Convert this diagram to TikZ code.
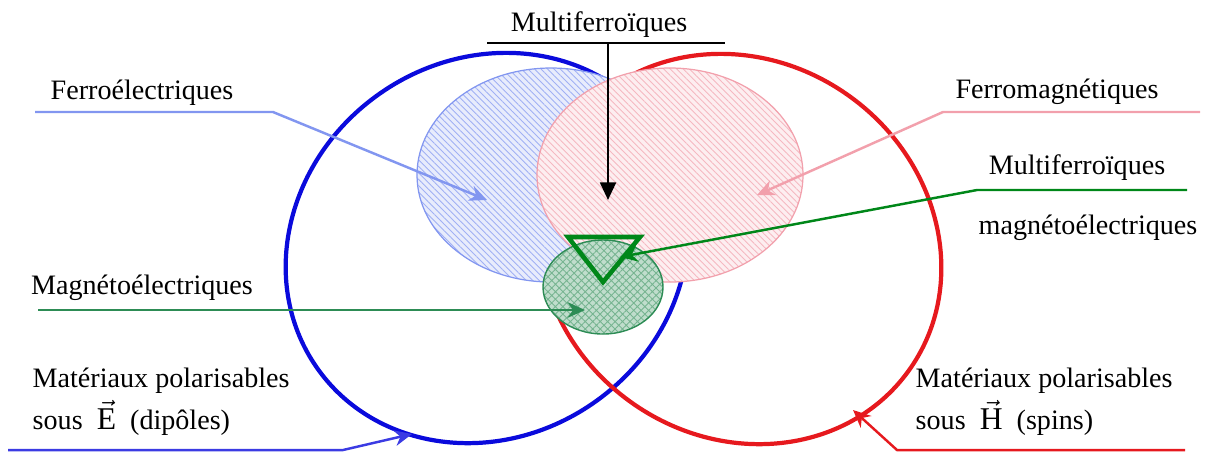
\documentclass[tikz,border=0pt]{standalone}
\usepackage{amsmath}
\usepackage{fontspec}
\setmainfont{Liberation Serif}
\usepackage{tikz}
\usetikzlibrary{
  arrows.meta,
  patterns.meta,
  positioning
}
\definecolor{ringblue}{RGB}{10,10,220}
\definecolor{ringred}{RGB}{230,25,30}
\definecolor{hatchblue}{RGB}{130,150,240}
\definecolor{hatchred}{RGB}{242,160,172}
\definecolor{triggreen}{RGB}{0,135,25}
\definecolor{megreen}{RGB}{45,140,85}

\begin{document}
\begin{tikzpicture}[
  every node/.style={font=\fontsize{8}{9.6}\selectfont, inner sep=0pt},
  bigring/.style={line width=1.2pt},
  hatched/.style={draw=#1, line width=0.35pt, fill opacity=0.65,
    preaction={fill=#1!18}, pattern color=#1!75,
    pattern={Lines[angle=-45,distance=1.3pt,line width=0.25pt]}},
  callout/.style={line width=0.7pt, -{Stealth[length=5pt,width=4.5pt]}},
  vecline/.style={anchor=west, text height=6pt, text depth=2pt}
]
  \useasboundingbox (0,0) rectangle (12.07,-4.52);

  % the two big sets
  \draw[bigring, ringblue] (4.87,-2.48) ellipse [x radius=2.08, y radius=1.88, rotate=36];
  \draw[bigring, ringred] (7.40,-2.49) ellipse [x radius=2.08, y radius=1.88, rotate=-36];

  % ferroics and magnetoelectrics
  \draw[hatched=hatchblue] (5.51,-1.75) ellipse [x radius=1.34, y radius=1.07];
  \draw[hatched=hatchred] (6.70,-1.75) ellipse [x radius=1.33, y radius=1.07];
  \draw[draw=megreen, line width=0.4pt, fill opacity=0.75, preaction={fill=megreen!30},
    pattern color=megreen!65, pattern={Hatch[angle=45,distance=1.5pt,line width=0.25pt]}]
    (6.03,-2.87) ellipse [x radius=0.60, y radius=0.47];
  \draw[triggreen, line width=1.3pt, line join=miter]
    (5.68,-2.37) -- (6.40,-2.37) -- (6.03,-2.82) -- cycle;

  % labels
  \node (multiTop) at (5.99,-0.25) {Multiferroïques};
  \node (ferroE) at (1.42,-0.93) {Ferroélectriques};
  \node (ferroM) at (10.57,-0.92) {Ferromagnétiques};
  \node (multiME) at (10.77,-1.68) {Multiferroïques};
  \node (multiMEb) at (10.88,-2.28) {magnétoélectriques};
  \node (magE) at (1.42,-2.88) {Magnétoélectriques};
  \node[anchor=west] (polE) at (0.32,-3.81) {Matériaux polarisables};
  \node[vecline] (polEb) at (0.32,-4.22)
    {sous~~$\vec{\text{\fontsize{9}{10}\selectfont E}}$~~(dipôles)};
  \node[anchor=west] (polH) at (9.15,-3.81) {Matériaux polarisables};
  \node[vecline] (polHb) at (9.15,-4.22)
    {sous~~$\vec{\text{\fontsize{9}{10}\selectfont H}}$~~(spins)};

  % callout lines
  \coordinate (mtL) at (4.87,-0.43);
  \coordinate (mtR) at (7.25,-0.43);
  \coordinate (mtK) at (6.08,-0.43);
  \coordinate (mtT) at (6.08,-2.00);
  \coordinate (feL) at (0.35,-1.12);
  \coordinate (feK) at (2.73,-1.12);
  \coordinate (feT) at (4.87,-2.00);
  \coordinate (fmR) at (12.00,-1.12);
  \coordinate (fmK) at (9.43,-1.12);
  \coordinate (fmT) at (7.57,-1.95);
  \coordinate (meR) at (11.87,-1.90);
  \coordinate (meK) at (9.77,-1.90);
  \coordinate (meT) at (6.20,-2.57);
  \coordinate (mgL) at (0.38,-3.10);
  \coordinate (mgT) at (5.85,-3.10);
  \coordinate (peL) at (0.08,-4.50);
  \coordinate (peK) at (3.43,-4.50);
  \coordinate (peT) at (4.12,-4.34);
  \coordinate (phR) at (11.85,-4.50);
  \coordinate (phK) at (8.97,-4.50);
  \coordinate (phT) at (8.53,-4.10);

  \draw[line width=0.7pt] (mtL) -- (mtR);
  \draw[line width=0.7pt, -{Triangle[length=5pt,width=4.5pt]}] (mtK) -- (mtT);
  \draw[callout, hatchblue] (feL) -- (feK) -- (feT);
  \draw[callout, hatchred] (fmR) -- (fmK) -- (fmT);
  \draw[callout, triggreen] (meR) -- (meK) -- (meT);
  \draw[callout, megreen, line width=0.5pt] (mgL) -- (mgT);
  \draw[callout, ringblue!80] (peL) -- (peK) -- (peT);
  \draw[callout, ringred] (phR) -- (phK) -- (phT);
\end{tikzpicture}
\end{document}
